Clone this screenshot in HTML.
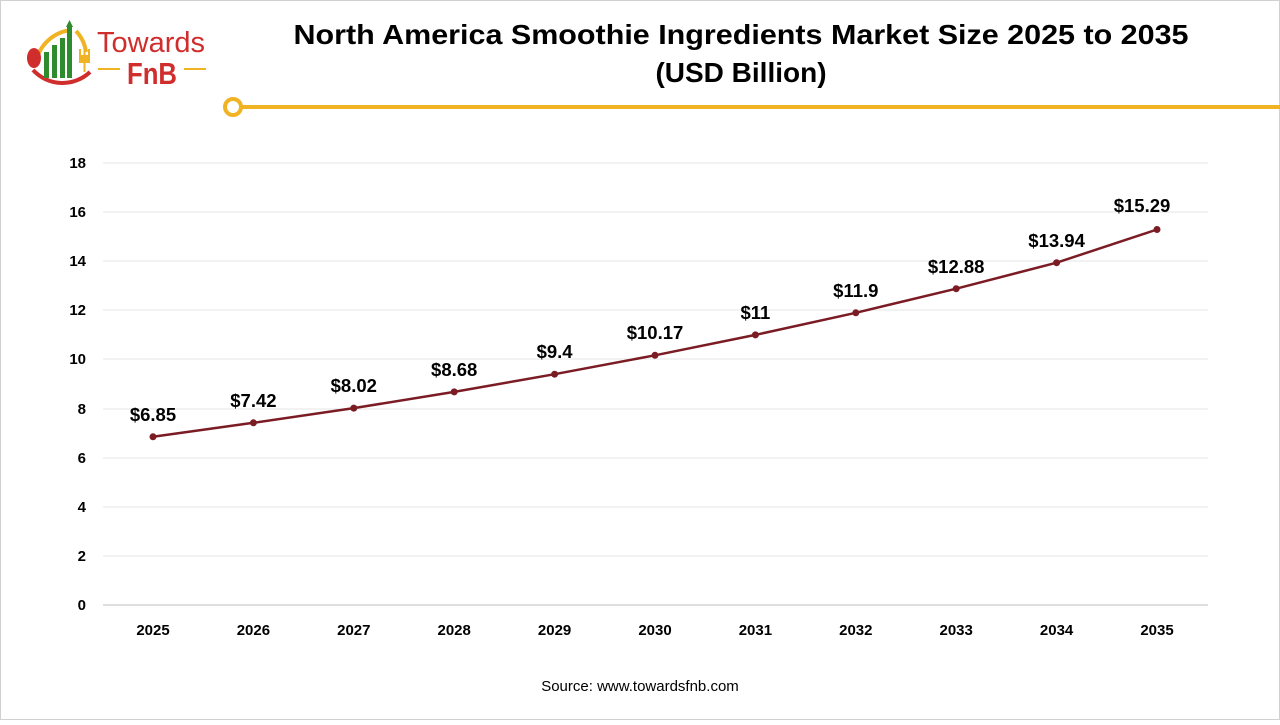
<!DOCTYPE html>
<html><head><meta charset="utf-8"><style>
html,body{margin:0;padding:0;background:#fff;}
body{width:1280px;height:720px;overflow:hidden;font-family:"Liberation Sans",sans-serif;}
</style></head><body>
<svg width="1280" height="720" viewBox="0 0 1280 720" xmlns="http://www.w3.org/2000/svg" font-family="Liberation Sans, sans-serif">
<rect x="0.5" y="0.5" width="1279" height="719" fill="#fff" stroke="#d0d0d0"/>
<!-- logo -->
<path d="M36 62 A40 40 0 0 1 72 30" stroke="#f0b323" stroke-width="4" fill="none"/>
<path d="M76 31 A38 38 0 0 1 86 52" stroke="#f0b323" stroke-width="4" fill="none"/>
<path d="M33 70 A40 40 0 0 0 90 72" stroke="#d02d2d" stroke-width="4" fill="none"/>
<ellipse cx="34" cy="58" rx="7" ry="10" fill="#d02d2d"/>
<g fill="#2e8b2e"><rect x="44" y="52" width="5" height="26"/><rect x="52" y="45" width="5" height="33"/><rect x="60" y="38" width="5" height="40"/><rect x="67" y="26" width="5" height="52"/>
<polygon points="66,27 69.5,20 73,27"/></g>
<g fill="#f0b323"><rect x="79" y="55" width="11" height="8"/><rect x="79" y="49" width="2" height="7"/><rect x="83.5" y="49" width="2" height="7"/><rect x="88" y="49" width="2" height="7"/><rect x="83.5" y="62" width="2" height="10"/></g>
<text x="97" y="52" font-size="29" fill="#d02d2d">Towards</text>
<text x="127" y="84" font-size="31" fill="#d02d2d" font-weight="bold" textLength="50" lengthAdjust="spacingAndGlyphs">FnB</text>
<line x1="98" y1="69" x2="120" y2="69" stroke="#f0b323" stroke-width="2"/>
<line x1="184" y1="69" x2="206" y2="69" stroke="#f0b323" stroke-width="2"/>
<!-- title -->
<text x="741" y="44" font-size="28" font-weight="bold" text-anchor="middle" fill="#000" textLength="895" lengthAdjust="spacingAndGlyphs">North America Smoothie Ingredients Market Size 2025 to 2035</text>
<text x="741" y="82" font-size="28" font-weight="bold" text-anchor="middle" fill="#000">(USD Billion)</text>
<line x1="242" y1="107" x2="1280" y2="107" stroke="#f0b323" stroke-width="4"/>
<circle cx="233" cy="107" r="8" fill="#fff" stroke="#f0b323" stroke-width="4"/>
<!-- grid -->
<g stroke="#e6e6e6" stroke-width="1">
<line x1="103" x2="1208" y1="163" y2="163"/><line x1="103" x2="1208" y1="212" y2="212"/><line x1="103" x2="1208" y1="261" y2="261"/><line x1="103" x2="1208" y1="310" y2="310"/><line x1="103" x2="1208" y1="359" y2="359"/><line x1="103" x2="1208" y1="409" y2="409"/><line x1="103" x2="1208" y1="458" y2="458"/><line x1="103" x2="1208" y1="507" y2="507"/><line x1="103" x2="1208" y1="556" y2="556"/>
</g>
<line x1="103" x2="1208" y1="605" y2="605" stroke="#bfbfbf"/>
<g font-size="15" font-weight="bold" text-anchor="end" fill="#000">
<text x="86" y="168">18</text><text x="86" y="217">16</text><text x="86" y="266">14</text><text x="86" y="315">12</text><text x="86" y="364">10</text><text x="86" y="414">8</text><text x="86" y="463">6</text><text x="86" y="512">4</text><text x="86" y="561">2</text><text x="86" y="610">0</text>
</g>
<g font-size="15" font-weight="bold" text-anchor="middle" fill="#000">
<text x="153" y="635">2025</text><text x="253.4" y="635">2026</text><text x="353.8" y="635">2027</text><text x="454.2" y="635">2028</text><text x="554.6" y="635">2029</text><text x="655" y="635">2030</text><text x="755.4" y="635">2031</text><text x="855.8" y="635">2032</text><text x="956.2" y="635">2033</text><text x="1056.6" y="635">2034</text><text x="1157" y="635">2035</text>
</g>
<polyline fill="none" stroke="#7b1c24" stroke-width="2.5" points="153,436.8 253.4,422.8 353.8,408.1 454.2,391.9 554.6,374.2 655,355.3 755.4,334.9 855.8,312.8 956.2,288.7 1056.6,262.7 1157,229.5"/>
<g fill="#7b1c24">
<circle cx="153" cy="436.8" r="3.5"/><circle cx="253.4" cy="422.8" r="3.5"/><circle cx="353.8" cy="408.1" r="3.5"/><circle cx="454.2" cy="391.9" r="3.5"/><circle cx="554.6" cy="374.2" r="3.5"/><circle cx="655" cy="355.3" r="3.5"/><circle cx="755.4" cy="334.9" r="3.5"/><circle cx="855.8" cy="312.8" r="3.5"/><circle cx="956.2" cy="288.7" r="3.5"/><circle cx="1056.6" cy="262.7" r="3.5"/><circle cx="1157" cy="229.5" r="3.5"/>
</g>
<g font-size="18.5" font-weight="bold" text-anchor="middle" fill="#000">
<text x="153" y="421">$6.85</text><text x="253.4" y="407">$7.42</text><text x="353.8" y="392">$8.02</text><text x="454.2" y="376">$8.68</text><text x="554.6" y="358">$9.4</text><text x="655" y="339">$10.17</text><text x="755.4" y="319">$11</text><text x="855.8" y="297">$11.9</text><text x="956.2" y="273">$12.88</text><text x="1056.6" y="247">$13.94</text><text x="1142" y="212">$15.29</text>
</g>
<text x="640" y="691" font-size="15" text-anchor="middle" fill="#000">Source: www.towardsfnb.com</text>
</svg>
</body></html>
